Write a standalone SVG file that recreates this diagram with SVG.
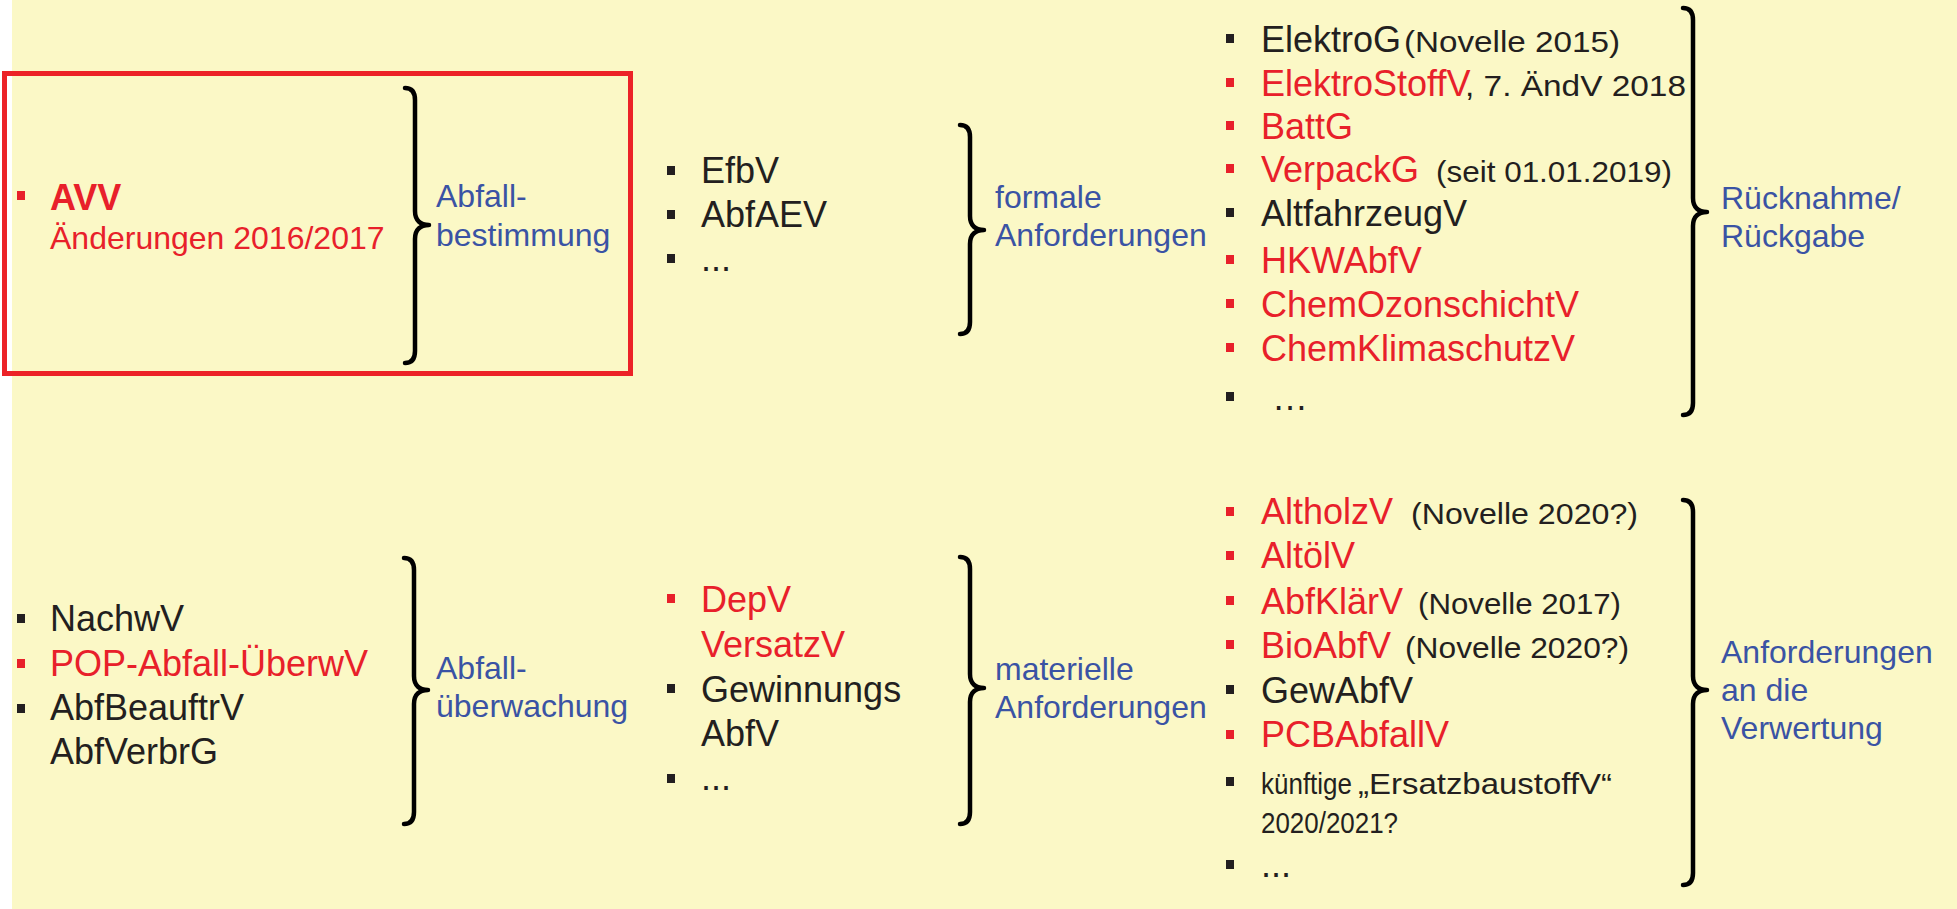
<svg xmlns="http://www.w3.org/2000/svg" width="1957" height="909" viewBox="0 0 1957 909">
  <style>
    text { font-family: "Liberation Sans", Arial, Helvetica, sans-serif; }
    .k { font-size: 36px; fill: #231F20; }
    .r { fill: #E8202A; }
    .bl { font-size: 32px; fill: #3A53A4; }
    .sm { font-size: 29px; fill: #231F20; }
    .bk { fill: #231F20; }
    .br { fill: #E8202A; }
    .brace { fill: none; stroke: #000; stroke-width: 4.5; stroke-linecap: round; stroke-linejoin: round; }
  </style>

  <!-- page background -->
  <rect x="0" y="0" width="1957" height="909" fill="#FFFFFF"/>
  <rect x="12" y="0" width="1945" height="909" fill="#FBF8C6"/>

  <!-- connectors: curly braces grouping each list -->
  <g id="braces">
    <path class="brace" d="M405,88 Q415,88 415,100 L415,211 C415,221 421,225 429,225 C421,225 415,229 415,239 L415,351 Q415,363 405,363"/>
    <path class="brace" d="M960,125 Q970,125 970,137 L970,216 C970,226 976,230 984,230 C976,230 970,234 970,244 L970,322 Q970,334 960,334"/>
    <path class="brace" d="M1683,8 Q1693,8 1693,20 L1693,198 C1693,208 1699,212 1707,212 C1699,212 1693,216 1693,226 L1693,403 Q1693,415 1683,415"/>
    <path class="brace" d="M404,558 Q414,558 414,570 L414,676 C414,686 420,690 428,690 C420,690 414,694 414,704 L414,812 Q414,824 404,824"/>
    <path class="brace" d="M960,557 Q970,557 970,569 L970,674 C970,684 976,688 984,688 C976,688 970,692 970,702 L970,812 Q970,824 960,824"/>
    <path class="brace" d="M1683,500 Q1693,500 1693,512 L1693,676 C1693,686 1699,690 1707,690 C1699,690 1693,694 1693,704 L1693,873 Q1693,885 1683,885"/>
  </g>

  <!-- AVV, highlighted -->
  <g id="avv">
    <rect x="4.5" y="73.5" width="626" height="300" fill="none" stroke="#EC2227" stroke-width="5"/>
    <rect class="br" x="17" y="191" width="8" height="9"/>
    <text x="50" y="210" font-size="36" font-weight="bold" class="r">AVV</text>
    <text x="50" y="249" font-size="32" class="r">Änderungen 2016/2017</text>
  </g>

  <g id="label-abfallbestimmung">
    <text class="bl" x="436" y="207">Abfall-</text>
    <text class="bl" x="436" y="246">bestimmung</text>
  </g>

  <g id="list-formal">
    <rect class="bk" x="667" y="166" width="8" height="9"/>
    <rect class="bk" x="667" y="210" width="8" height="9"/>
    <rect class="bk" x="667" y="254" width="8" height="9"/>
    <text class="k" x="701" y="183">EfbV</text>
    <text class="k" x="701" y="227">AbfAEV</text>
    <text class="k" x="701" y="271">...</text>
  </g>

  <g id="label-formal">
    <text class="bl" x="995" y="208">formale</text>
    <text class="bl" x="995" y="246">Anforderungen</text>
  </g>

  <g id="list-ruecknahme">
    <rect class="bk" x="1226" y="34" width="8" height="9"/>
    <rect class="br" x="1226" y="78" width="8" height="9"/>
    <rect class="br" x="1226" y="121" width="8" height="9"/>
    <rect class="br" x="1226" y="164" width="8" height="9"/>
    <rect class="bk" x="1226" y="208" width="8" height="9"/>
    <rect class="br" x="1226" y="255" width="8" height="9"/>
    <rect class="br" x="1226" y="299" width="8" height="9"/>
    <rect class="br" x="1226" y="343" width="8" height="9"/>
    <rect class="bk" x="1226" y="392" width="8" height="9"/>
    <text class="k" x="1261" y="52">ElektroG</text>
    <text class="sm" x="1404" y="52" textLength="216" lengthAdjust="spacingAndGlyphs">(Novelle 2015)</text>
    <text class="k r" x="1261" y="96">ElektroStoffV</text>
    <text class="sm" x="1465" y="96" textLength="221" lengthAdjust="spacingAndGlyphs">, 7. ÄndV 2018</text>
    <text class="k r" x="1261" y="139">BattG</text>
    <text class="k r" x="1261" y="182">VerpackG</text>
    <text class="sm" x="1436" y="182" textLength="236" lengthAdjust="spacingAndGlyphs">(seit 01.01.2019)</text>
    <text class="k" x="1261" y="226">AltfahrzeugV</text>
    <text class="k r" x="1261" y="273">HKWAbfV</text>
    <text class="k r" x="1261" y="317">ChemOzonschichtV</text>
    <text class="k r" x="1261" y="361">ChemKlimaschutzV</text>
    <text class="k" x="1272" y="410">…</text>
  </g>

  <g id="label-ruecknahme">
    <text class="bl" x="1721" y="209">Rücknahme/</text>
    <text class="bl" x="1721" y="247">Rückgabe</text>
  </g>

  <g id="list-ueberwachung">
    <rect class="bk" x="17" y="614" width="8" height="9"/>
    <rect class="br" x="17" y="659" width="8" height="9"/>
    <rect class="bk" x="17" y="704" width="8" height="9"/>
    <text class="k" x="50" y="631">NachwV</text>
    <text class="k r" x="50" y="676">POP-Abfall-ÜberwV</text>
    <text class="k" x="50" y="720">AbfBeauftrV</text>
    <text class="k" x="50" y="764">AbfVerbrG</text>
  </g>

  <g id="label-ueberwachung">
    <text class="bl" x="436" y="679">Abfall-</text>
    <text class="bl" x="436" y="717">überwachung</text>
  </g>

  <g id="list-materiell">
    <rect class="br" x="667" y="594" width="8" height="9"/>
    <rect class="bk" x="667" y="684" width="8" height="9"/>
    <rect class="bk" x="667" y="774" width="8" height="9"/>
    <text class="k r" x="701" y="612">DepV</text>
    <text class="k r" x="701" y="657">VersatzV</text>
    <text class="k" x="701" y="702">Gewinnungs</text>
    <text class="k" x="701" y="746">AbfV</text>
    <text class="k" x="701" y="790">...</text>
  </g>

  <g id="label-materiell">
    <text class="bl" x="995" y="680">materielle</text>
    <text class="bl" x="995" y="718">Anforderungen</text>
  </g>

  <g id="list-verwertung">
    <rect class="br" x="1226" y="507" width="8" height="9"/>
    <rect class="br" x="1226" y="551" width="8" height="9"/>
    <rect class="br" x="1226" y="596" width="8" height="9"/>
    <rect class="br" x="1226" y="640" width="8" height="9"/>
    <rect class="bk" x="1226" y="685" width="8" height="9"/>
    <rect class="br" x="1226" y="730" width="8" height="9"/>
    <rect class="bk" x="1226" y="777" width="8" height="9"/>
    <rect class="bk" x="1226" y="860" width="8" height="9"/>
    <text class="k r" x="1261" y="524">AltholzV</text>
    <text class="sm" x="1411" y="524" textLength="227" lengthAdjust="spacingAndGlyphs">(Novelle 2020?)</text>
    <text class="k r" x="1261" y="568">AltölV</text>
    <text class="k r" x="1261" y="614">AbfKlärV</text>
    <text class="sm" x="1418" y="614" textLength="203" lengthAdjust="spacingAndGlyphs">(Novelle 2017)</text>
    <text class="k r" x="1261" y="658">BioAbfV</text>
    <text class="sm" x="1405" y="658" textLength="224" lengthAdjust="spacingAndGlyphs">(Novelle 2020?)</text>
    <text class="k" x="1261" y="703">GewAbfV</text>
    <text class="k r" x="1261" y="747">PCBAbfallV</text>
    <text class="sm" x="1261" y="794" textLength="91" lengthAdjust="spacingAndGlyphs">künftige</text>
    <text class="sm" x="1358" y="794" font-size="32" textLength="254" lengthAdjust="spacingAndGlyphs">„ErsatzbaustoffV“</text>
    <text class="sm" x="1261" y="833" textLength="137" lengthAdjust="spacingAndGlyphs">2020/2021?</text>
    <text class="k" x="1261" y="877">...</text>
  </g>

  <g id="label-verwertung">
    <text class="bl" x="1721" y="663">Anforderungen</text>
    <text class="bl" x="1721" y="701">an die</text>
    <text class="bl" x="1721" y="739">Verwertung</text>
  </g>
</svg>
